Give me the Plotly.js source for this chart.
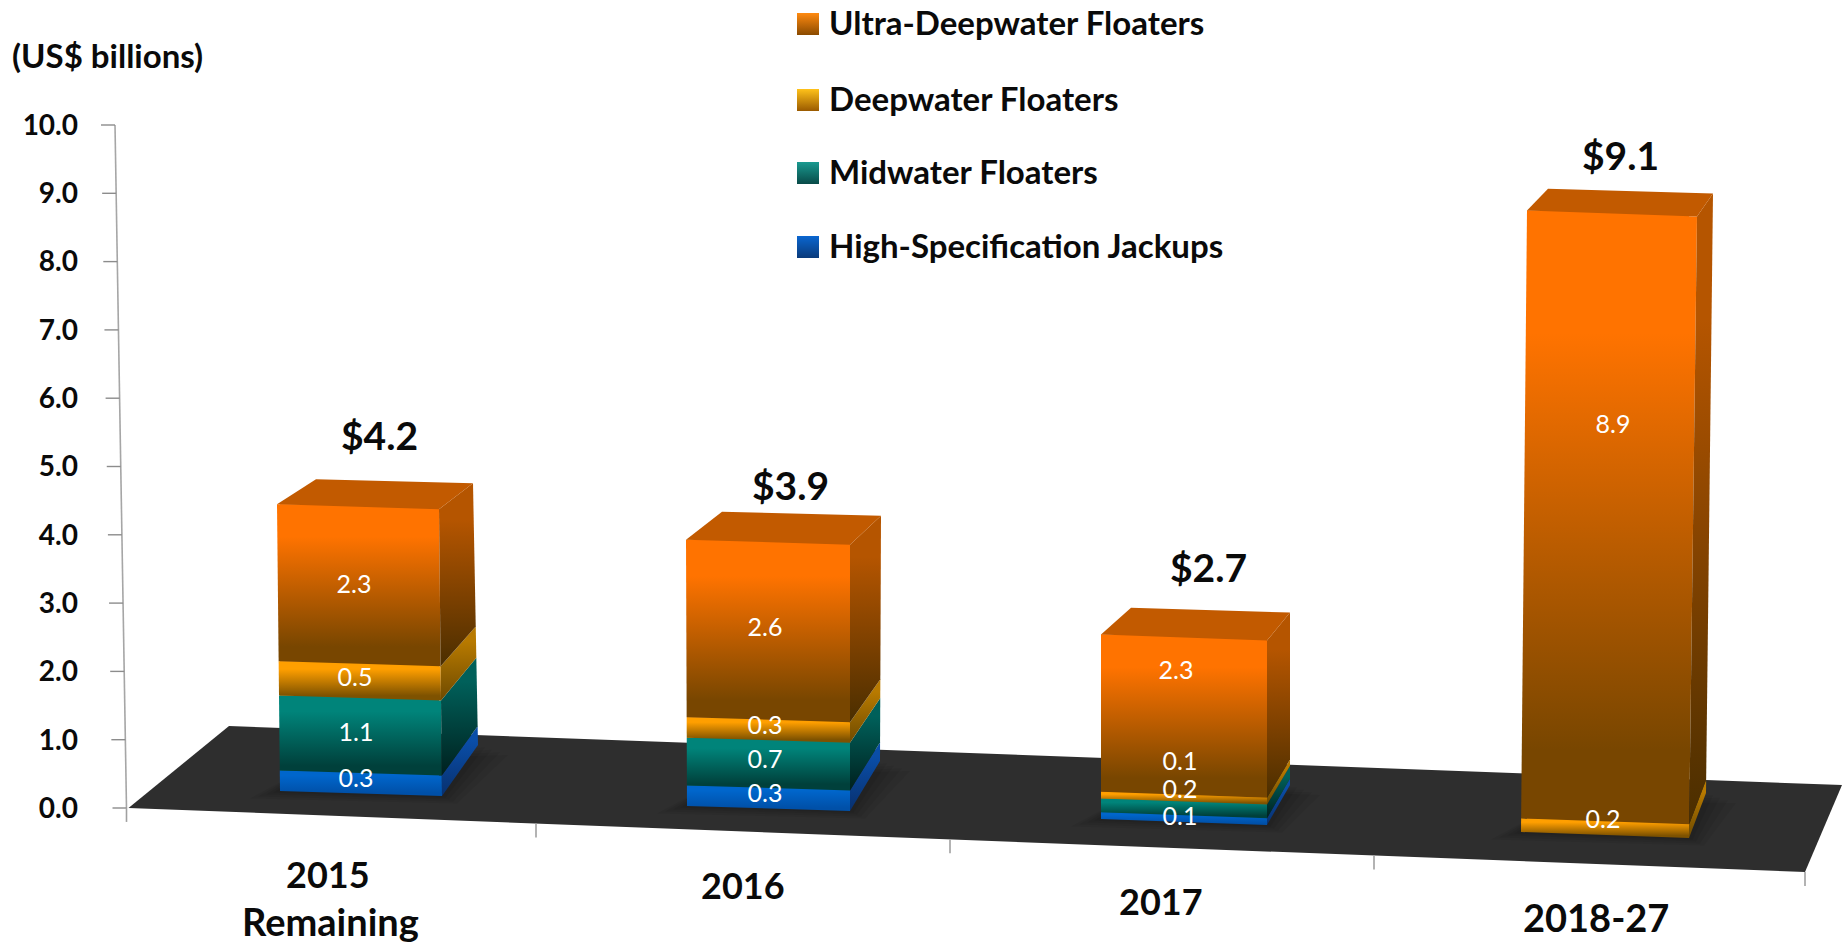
<!DOCTYPE html>
<html>
<head>
<meta charset="utf-8">
<script src="https://cdn.plot.ly/plotly-3.0.1.min.js"></script>
<style>html,body{margin:0;padding:0;background:#fff}#chart{width:1846px;height:946px}</style>
</head>
<body>
<div id="chart"></div>
<script>
// ---- chart values ----
const categories = ['2015<br>Remaining', '2016', '2017', '2018-27'];
const totals = [4.2, 3.9, 2.7, 9.1];
const highSpecJackups = [0.3, 0.3, 0.1, 0];
const midwaterFloaters = [1.1, 0.7, 0.2, 0];
const deepwaterFloaters = [0.5, 0.3, 0.1, 0.2];
const ultraDeepwaterFloaters = [2.3, 2.6, 2.3, 8.9];
const yTicks = [0, 1, 2, 3, 4, 5, 6, 7, 8, 9, 10];
const seriesNames = ['High-Specification Jackups', 'Midwater Floaters', 'Deepwater Floaters', 'Ultra-Deepwater Floaters'];

// ---- page geometry (pixels of the perspective drawing) ----
const W = 1846, H = 946, Y0 = 808, UNIT = 68.3;
const val = px => (Y0 - px) / UNIT;          // page pixel row -> value on the y axis
const baseLeftPx = [791, 806, 819, 832];
const tiltPx = [5, 5, 6, 6];
const leftBottom = [280, 687, 1101, 1521], leftTop = [277, 686, 1101, 1527];
const rightBottom = [442, 850, 1267, 1689], rightTop = [439, 850, 1267, 1697];
const depthBase = [[36, 51], [30, 50], [23, 40], [17, 45]];
const depthTop = [[34, 26], [31, 29], [23, 28], [16, 23]];
const topLeftExtra = [5, 5, 7, 5];
const labelX = [[356, 356, 355, 354], [765, 765, 765, 765], [1180, 1180, 1180, 1176], [null, null, 1603, 1613]];
const labelPy = [[781, 735, 680, 587], [796, 762, 728, 630], [819, 792, 764, 673], [null, null, 822, 427]];
const totalX = [379, 790, 1208, 1620], totalPy = [435, 485, 567, 155];
const catX = [328, 743, 1161, 1596], catPy = [874, 885, 901, 917];
const catSecondLinePy = 921;
const catSize = [36, 36, 36, 38], catSecondSize = 38;
const xTickX = [126.5, 536, 950, 1374, 1805];
const legendPy = [245, 171, 98, 22];

const faceColors = [
  {front: ['#0050a8', '#0066cc'], side: ['#08306e', '#0a4ea8']},
  {front: ['#00403b', '#00847a'], side: ['#00201e', '#00605a']},
  {front: ['#7e5200', '#ff9f00'], side: ['#6e4a00', '#b87a00']},
  {front: ['#784600', '#ff7300'], side: ['#4a2e00', '#b55500']}
];
const swatch = [['#0a66d0', '#0a3a7a'], ['#1a9a90', '#084a48'], ['#ffc21a', '#9a5a00'], ['#ff8a10', '#8a4a00']];
const series = [highSpecJackups, midwaterFloaters, deepwaterFloaters, ultraDeepwaterFloaters];
const lerp = (a, b, t) => a + (b - a) * t;

const traces = [];
const labelTraces = [];
const shapes = [];

// floor
const floor = [[128.5, 808], [1805, 872], [1842, 785], [229, 726]];
const poly = pts => 'M' + pts.map(p => p[0] + ',' + val(p[1])).join(' L') + ' Z';
shapes.push({type: 'path', layer: 'below', xref: 'x', yref: 'y', path: poly(floor), fillcolor: '#2e2e2e', line: {width: 0}});

// soft shadow round each bar foot
categories.forEach((c, i) => {
  [30, 22, 14, 7].forEach(g => {
    const yl = baseLeftPx[i], yr = yl + tiltPx[i], d = depthBase[i];
    shapes.push({type: 'path', layer: 'below', xref: 'x', yref: 'y', fillcolor: 'rgba(0,0,0,0.06)', line: {width: 0},
      path: poly([[leftBottom[i] - g, yl + g / 4], [rightBottom[i] + g / 2, yr + g / 4],
                  [rightBottom[i] + d[0] + g, yr - d[1] + g / 3], [leftBottom[i] + 40, yl - 30]])});
  });
});

// front faces: real bars, stacked on the foot of each column
const barX = categories.map((c, i) => (Math.max(leftBottom[i], leftTop[i]) + Math.min(rightBottom[i], rightTop[i])) / 2);
const barW = categories.map((c, i) => Math.min(rightBottom[i], rightTop[i]) - Math.max(leftBottom[i], leftTop[i]));
const cum = categories.map(() => 0);
series.forEach((s, k) => {
  const bases = s.map((v, i) => val(baseLeftPx[i]) + cum[i]);
  traces.push({type: 'bar', name: seriesNames[k], x: barX, y: s, base: bases, width: barW,
    marker: {color: faceColors[k].front[1], line: {width: 0}}, showlegend: false, cliponaxis: false,
    customdata: categories, hovertemplate: '%{customdata}: %{y}<extra>' + seriesNames[k] + '</extra>'});

  // gradient overlay and side face of every segment
  s.forEach((v, i) => {
    if (!v) return;
    const T = totals[i], t0 = cum[i] / T, t1 = (cum[i] + v) / T;
    const b = val(baseLeftPx[i]), tilt = tiltPx[i] / UNIT;
    const lx = t => lerp(leftBottom[i], leftTop[i], t), rx = t => lerp(rightBottom[i], rightTop[i], t);
    const yL0 = b + cum[i], yL1 = b + cum[i] + v, yR0 = yL0 - tilt, yR1 = yL1 - tilt;
    traces.push({type: 'scatter', mode: 'lines', line: {width: 0}, hoverinfo: 'skip', showlegend: false, fill: 'toself',
      x: [lx(t0), rx(t0), rx(t1), lx(t1), lx(t0)], y: [yL0, yR0, yR1, yL1, yL0],
      fillgradient: {type: 'vertical', colorscale: [[0, faceColors[k].front[0]], [0.12, faceColors[k].front[0]], [0.8, faceColors[k].front[1]], [1, faceColors[k].front[1]]]}});
    const dx = t => lerp(depthBase[i][0], depthTop[i][0], t), dy = t => lerp(depthBase[i][1], depthTop[i][1], t) / UNIT;
    traces.push({type: 'scatter', mode: 'lines', line: {width: 0}, hoverinfo: 'skip', showlegend: false, fill: 'toself',
      x: [rx(t0), rx(t0) + dx(t0), rx(t1) + dx(t1), rx(t1), rx(t0)],
      y: [yR0, yR0 + dy(t0), yR1 + dy(t1), yR1, yR0],
      fillgradient: {type: 'vertical', colorscale: [[0, faceColors[k].side[0]], [0.8, faceColors[k].side[1]], [1, faceColors[k].side[1]]]}});
    cum[i] += v;
    if (k === series.length - 1 || cum[i] >= T - 1e-6) {
      const d = depthTop[i], up = d[1] / UNIT, tl = yL1, tr = yR1;
      traces.push({type: 'scatter', mode: 'lines', line: {width: 0}, hoverinfo: 'skip', showlegend: false, fill: 'toself', fillcolor: '#c25a00',
        x: [lx(1), rx(1), rx(1) + d[0], lx(1) + d[0] + topLeftExtra[i], lx(1)],
        y: [tl, tr, tr + up, tl + up - tilt * 0.2, tl]});
    }
  });

  // segment value labels (added last, so they lie above every face)
  const lx = [], ly = [], lt = [];
  s.forEach((v, i) => { if (v) { lx.push(labelX[i][k]); ly.push(val(labelPy[i][k])); lt.push(v.toFixed(1)); } });
  labelTraces.push({type: 'scatter', mode: 'text', x: lx, y: ly, text: lt, textposition: 'middle center', hoverinfo: 'skip',
    showlegend: false, cliponaxis: false, textfont: {family: 'Lato', size: 25, color: '#ffffff'}});
});
traces.push(...labelTraces);

// sloped value axis: spine and tick marks
const spineX = v => lerp(126.5, 115, v / 10);
traces.push({type: 'scatter', mode: 'lines', hoverinfo: 'skip', showlegend: false, line: {color: '#a6a6a6', width: 1.6},
  x: [spineX(0), spineX(10)], y: [0, 10]});
const tx = [], ty = [];
yTicks.forEach(v => { tx.push(spineX(v) - 14, spineX(v), null); ty.push(v, v, null); });
traces.push({type: 'scatter', mode: 'lines', hoverinfo: 'skip', showlegend: false, line: {color: '#8c8c8c', width: 1.4}, x: tx, y: ty});

// sloped category axis tick marks, along the front edge of the floor
const frontPy = x => lerp(808, 872, (x - 128.5) / (1805 - 128.5));
const cx = [], cy = [];
xTickX.forEach(x => { cx.push(x, x, null); cy.push(val(frontPy(x)), val(frontPy(x) + 14), null); });
traces.push({type: 'scatter', mode: 'lines', hoverinfo: 'skip', showlegend: false, line: {color: '#a0a0a0', width: 1.6}, x: cx, y: cy});

// key
seriesNames.forEach((n, k) => {
  traces.push({type: 'scatter', mode: 'markers', hoverinfo: 'skip', showlegend: false, x: [808], y: [val(legendPy[k] + 2)],
    marker: {symbol: 'square', size: 22, color: swatch[k][0], gradient: {type: 'vertical', color: swatch[k][1]}, line: {width: 0}}});
});

const txt = (text, x, py, size, anchor) => ({text, x, y: val(py), xref: 'x', yref: 'y', showarrow: false, xanchor: anchor || 'center', yanchor: 'middle',
  font: {family: 'Lato', size, color: '#0a0a0a', weight: 700}});
const annotations = [];
categories.forEach((c, i) => {
  const lines = c.split('<br>');
  annotations.push(txt(lines[0], catX[i], catPy[i], catSize[i]));
  if (lines[1]) annotations.push(txt(lines[1], catX[i] + 2, catSecondLinePy, catSecondSize));
  annotations.push(txt('$' + totals[i].toFixed(1), totalX[i], totalPy[i], 39));
});
seriesNames.forEach((n, k) => annotations.push(txt(n, 827, legendPy[k], 33, 'left')));
annotations.push(txt('(US$ billions)', 10, 55, 33, 'left'));

const layout = {
  width: W, height: H, margin: {l: 0, r: 0, t: 0, b: 0, pad: 0}, paper_bgcolor: '#fff', plot_bgcolor: '#fff',
  barmode: 'overlay', showlegend: false, shapes, annotations,
  xaxis: {range: [0, W], visible: false, fixedrange: true},
  yaxis: {range: [val(H), val(0)], anchor: 'free', position: 78 / W, tickmode: 'array', tickvals: yTicks,
    tickformat: '.1f', showgrid: false, zeroline: false, showline: false, ticks: '',
    tickfont: {family: 'Lato', size: 28, color: '#0a0a0a', weight: 700}, fixedrange: true}
};
Plotly.newPlot('chart', traces, layout, {displayModeBar: false, responsive: false});
</script>
</body>
</html>
